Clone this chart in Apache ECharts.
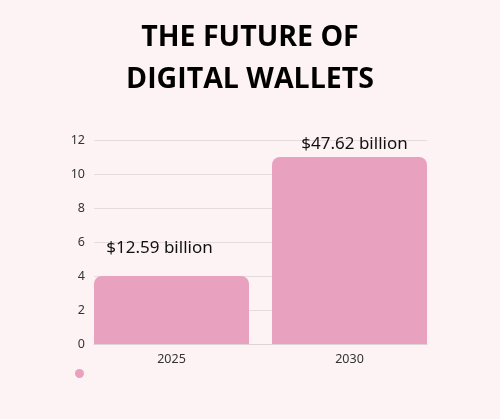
<!DOCTYPE html>
<html>
<head>
<meta charset="utf-8">
<script src="https://cdn.jsdelivr.net/npm/echarts@6/dist/echarts.min.js"></script>
<style>
  html, body { margin: 0; padding: 0; background: #fdf3f4; }
  #chart { width: 500px; height: 419px; }
</style>
</head>
<body>
<div id="chart"></div>
<script>
const years = ['2025', '2030']
const heights = [4, 11]
const valueLabels = ['$12.59 billion', '$47.62 billion']
const yTicks = [0, 2, 4, 6, 8, 10, 12]

const pink = '#e8a1bf'
// labels sit a bit differently above each bar in the original
const labelOffsets = [[-12, -14], [5, 1]]

const chart = echarts.init(document.getElementById('chart'))

const option = {
  backgroundColor: '#fdf3f4',
  animation: false,
  title: {
    text: 'THE FUTURE OF\nDIGITAL WALLETS',
    left: 'center',
    top: 12,
    textStyle: {
      fontFamily: 'Open Sans',
      fontWeight: 700,
      fontSize: 28.5,
      lineHeight: 42,
      color: '#000'
    }
  },
  legend: {
    left: 70,
    top: 364,
    icon: 'circle',
    itemWidth: 9,
    itemHeight: 9,
    data: [{ name: ' ', itemStyle: { color: pink } }],
    textStyle: { fontSize: 1, color: 'transparent' }
  },
  grid: [
    { left: 94, right: 73, top: 140, bottom: 75 },
    { left: 82.5, right: 61.5, top: 140, bottom: 75 }
  ],
  xAxis: [
    {
      gridIndex: 0,
      type: 'category',
      data: years,
      axisLine: { lineStyle: { color: '#ddd3d5', width: 1 } },
      axisTick: { show: false },
      axisLabel: { show: false }
    },
    {
      gridIndex: 1,
      type: 'category',
      data: years,
      axisLine: { show: false },
      axisTick: { show: false },
      axisLabel: {
        color: '#333',
        fontFamily: 'Noto Sans',
        fontSize: 12.5,
        margin: 9
      }
    }
  ],
  yAxis: [
    {
      gridIndex: 0,
      type: 'value',
      min: yTicks[0],
      max: yTicks[yTicks.length - 1],
      interval: 2,
      axisLine: { show: false },
      axisTick: { show: false },
      axisLabel: {
        color: '#333',
        fontFamily: 'Noto Sans',
        fontSize: 12.5,
        margin: 9
      },
      splitLine: { lineStyle: { color: '#e6dcdf', width: 1 } }
    },
    {
      gridIndex: 1,
      type: 'value',
      min: yTicks[0],
      max: yTicks[yTicks.length - 1],
      interval: 2,
      show: false,
      splitLine: { show: false }
    }
  ],
  series: [
    {
      name: ' ',
      type: 'bar',
      xAxisIndex: 1,
      yAxisIndex: 1,
      barWidth: 155,
      itemStyle: { color: pink, borderRadius: [8, 8, 0, 0] },
      data: heights.map((v, i) => ({
        value: v,
        label: {
          show: true,
          position: 'top',
          offset: labelOffsets[i],
          formatter: valueLabels[i],
          color: '#111',
          fontFamily: 'Noto Sans',
          fontSize: 17
        }
      }))
    }
  ]
}

chart.setOption(option)
</script>
</body>
</html>
